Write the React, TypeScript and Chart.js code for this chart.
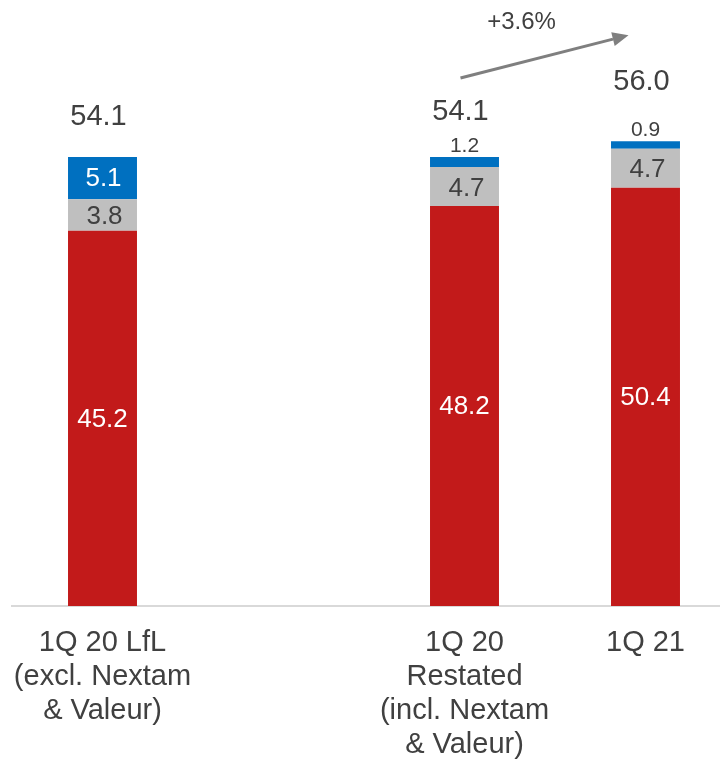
import React, { useEffect, useRef } from "react";
import { Chart, registerables } from "chart.js";

Chart.register(...registerables);

// Periods on the x axis (the empty slot leaves a gap after the first column)
const categories: (string | string[])[] = [
  ["1Q 20 LfL", "(excl. Nextam", "& Valeur)"],
  "",
  ["1Q 20", "Restated", "(incl. Nextam", "& Valeur)"],
  "1Q 21",
];

// Stacked components, bottom to top
const baseValues = [45.2, null, 48.2, 50.4];
const middleValues = [3.8, null, 4.7, 4.7];
const topValues = [5.1, null, 1.2, 0.9];

// Column totals shown above each stack
const totals = [54.1, null, 54.1, 56.0];

// Year-on-year change shown over the arrow
const growthLabel = "+3.6%";

const RED = "#C21A1A";
const GREY = "#BFBFBF";
const BLUE = "#0070C0";
const TEXT = "#404040";
const FONT = "'Liberation Sans', Arial, sans-serif";

const fmt = (v: number) => v.toFixed(1);

const labelsPlugin = {
  id: "stackLabels",
  afterDatasetsDraw(chart: any) {
    const { ctx, scales } = chart;
    const yScale = scales.y;
    ctx.save();
    ctx.textAlign = "center";
    ctx.textBaseline = "middle";

    chart.data.datasets.forEach((ds: any, di: number) => {
      const meta = chart.getDatasetMeta(di);
      meta.data.forEach((el: any, i: number) => {
        const v = ds.data[i];
        if (v == null) return;
        const { x, y, base } = el.getProps(["x", "y", "base"], true);
        const mid = (y + base) / 2;
        if (di === 0) {
          ctx.fillStyle = "#FFFFFF";
          ctx.font = `26px ${FONT}`;
          ctx.fillText(fmt(v), x, mid + 1);
        } else if (di === 1) {
          ctx.fillStyle = TEXT;
          ctx.font = `26px ${FONT}`;
          ctx.fillText(fmt(v), x + 2, mid + 2);
        } else {
          if (v >= 2) {
            ctx.fillStyle = "#FFFFFF";
            ctx.font = `26px ${FONT}`;
            ctx.fillText(fmt(v), x + 1, mid + 1);
          } else {
            ctx.fillStyle = TEXT;
            ctx.font = `21px ${FONT}`;
            ctx.fillText(fmt(v), x, y - 11);
          }
        }
      });
    });

    // Totals above the stacks
    const lastMeta = chart.getDatasetMeta(chart.data.datasets.length - 1);
    const totalOffsets = [40, 0, 45, 59];
    totals.forEach((t, i) => {
      if (t == null) return;
      const el = lastMeta.data[i];
      const ty = yScale.getPixelForValue(t);
      ctx.fillStyle = TEXT;
      ctx.font = `29px ${FONT}`;
      ctx.fillText(fmt(t), el.x - 4, ty - totalOffsets[i]);
    });

    // Growth arrow between the last two columns
    const fromEl = lastMeta.data[2];
    const toEl = lastMeta.data[3];
    const x1 = fromEl.x - 4;
    const y1 = yScale.getPixelForValue(totals[2] as number) - 79;
    const x2 = toEl.x - 17;
    const y2 = yScale.getPixelForValue(totals[3] as number) - 106;
    const ang = Math.atan2(y2 - y1, x2 - x1);
    const headLen = 16;
    const headHalf = 7;
    const bx = x2 - headLen * Math.cos(ang);
    const by = y2 - headLen * Math.sin(ang);
    ctx.strokeStyle = "#7F7F7F";
    ctx.fillStyle = "#7F7F7F";
    ctx.lineWidth = 3;
    ctx.beginPath();
    ctx.moveTo(x1, y1);
    ctx.lineTo(bx, by);
    ctx.stroke();
    ctx.beginPath();
    ctx.moveTo(x2, y2);
    ctx.lineTo(bx + headHalf * Math.sin(ang), by - headHalf * Math.cos(ang));
    ctx.lineTo(bx - headHalf * Math.sin(ang), by + headHalf * Math.cos(ang));
    ctx.closePath();
    ctx.fill();

    ctx.fillStyle = TEXT;
    ctx.font = `24px ${FONT}`;
    ctx.fillText(growthLabel, (x1 + x2) / 2 - 23, Math.min(y1, y2) - 13);

    ctx.restore();
  },
};

export default function App() {
  const canvasRef = useRef<HTMLCanvasElement | null>(null);

  useEffect(() => {
    // The canvas runs slightly past the right edge; keep the page from scrolling
    document.documentElement.style.overflow = "hidden";
    document.body.style.overflow = "hidden";
    const canvas = canvasRef.current;
    if (!canvas) return;
    const chart = new Chart(canvas, {
      type: "bar",
      data: {
        labels: categories,
        datasets: [
          { label: "Base", data: baseValues, backgroundColor: RED, stack: "s" },
          { label: "Middle", data: middleValues, backgroundColor: GREY, stack: "s" },
          { label: "Top", data: topValues, backgroundColor: BLUE, stack: "s" },
        ],
      },
      options: {
        animation: false,
        responsive: false,
        devicePixelRatio: 1,
        layout: { padding: { left: 4, right: 12, top: 17, bottom: 0 } },
        datasets: {
          bar: { categoryPercentage: 0.381, barPercentage: 1, borderWidth: 0 },
        },
        plugins: {
          legend: { display: false },
          tooltip: { enabled: false },
        },
        scales: {
          x: {
            stacked: true,
            grid: { display: false, drawTicks: false },
            border: { display: true, color: "#D9D9D9", width: 2 },
            ticks: {
              color: TEXT,
              font: { family: FONT, size: 29, lineHeight: "34px" },
              padding: 20,
              maxRotation: 0,
              autoSkip: false,
            },
            afterFit: (scale: any) => {
              scale.height = 153;
              scale.paddingLeft = 0;
              scale.paddingRight = 0;
            },
          },
          y: {
            stacked: true,
            display: false,
            min: 0,
            max: 70,
          },
        },
      },
      plugins: [labelsPlugin],
    });
    return () => chart.destroy();
  }, []);

  return (
    <canvas
      ref={canvasRef}
      width={740}
      height={751}
      style={{ width: 740, height: 751, display: "block" }}
    />
  );
}
